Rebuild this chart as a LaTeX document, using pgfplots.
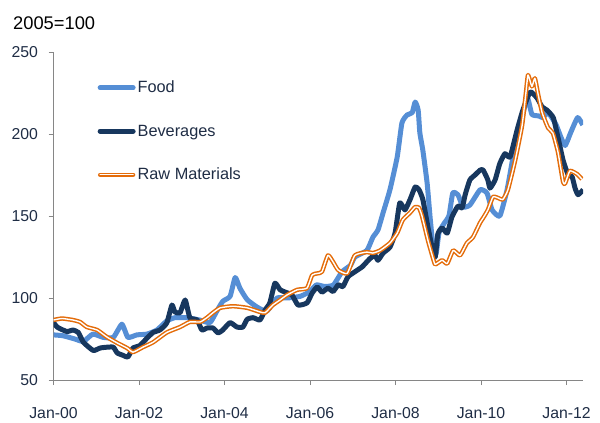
\documentclass[border=0pt]{standalone}
\usepackage{pgfplots}
\pgfplotsset{compat=1.18}
\usepackage{fontspec}
\setmainfont{Liberation Sans}
\definecolor{foodc}{HTML}{558ED5}
\definecolor{bevc}{HTML}{17375E}
\definecolor{rawc}{HTML}{E46C0A}
\definecolor{axc}{HTML}{868686}
\definecolor{txtc}{HTML}{1F2D45}
\begin{document}
\begin{tikzpicture}
\path[use as bounding box] (-53.5bp,-43bp) rectangle (546.5bp,380bp);
\begin{axis}[
  scale only axis, width=529.5bp, height=328bp,
  xmin=2000, xmax=2012.386, ymin=50, ymax=250,
  axis lines*=left,
  axis line style={draw=axc, line width=0.8bp},
  tick align=outside, major tick length=5bp,
  tick style={draw=axc, line width=0.8bp},
  xtick={2000,2002,2004,2006,2008,2010,2012},
  xticklabels={Jan-00,Jan-02,Jan-04,Jan-06,Jan-08,Jan-10,Jan-12},
  ytick={50,100,150,200,250},
  /pgf/number format/assume math mode=true,
  tick label style={font=\fontsize{15.8bp}{18bp}\selectfont, text=txtc},
  xticklabel style={yshift=-19bp},
  yticklabel style={xshift=-7bp},
  legend style={draw=none, fill=none, at={(axis description cs:0.083,0.918)}, anchor=north west,
    font=\fontsize{16.3bp}{19bp}\selectfont, text=txtc, row sep=26.5bp, inner sep=0pt},
  legend cell align=left,
  legend image code/.code={\draw[#1, line cap=round] (0bp,0bp) -- (33bp,0bp);},
  every axis plot/.append style={smooth, tension=0.3, line join=round},
]
\addplot[draw=foodc, line width=5bp] coordinates {
(2000.00,77.5) (2000.22,77) (2000.50,75) (2000.70,73.5) (2000.92,78) (2001.16,76) (2001.40,76) (2001.60,84) (2001.74,76) (2001.95,77.5) (2002.19,78) (2002.42,80.5) (2002.65,86) (2002.84,88) (2003.12,88) (2003.43,86.5) (2003.66,85) (2003.82,92) (2003.96,98) (2004.13,101) (2004.25,112.5) (2004.36,106) (2004.53,99) (2004.76,94.5) (2004.99,92) (2005.23,100) (2005.46,100) (2005.77,101) (2006.00,104) (2006.15,108) (2006.35,107) (2006.55,108) (2006.75,116) (2006.95,120) (2007.05,125) (2007.33,129) (2007.47,137) (2007.59,141.5) (2007.71,152) (2007.87,166) (2008.04,186) (2008.15,206.7) (2008.27,211.6) (2008.39,213) (2008.46,219.5) (2008.53,214.6) (2008.57,200.6) (2008.64,190) (2008.74,170) (2008.81,149) (2008.88,131) (2008.95,127) (2009.02,140) (2009.15,146) (2009.25,150) (2009.34,164) (2009.46,163) (2009.58,155.5) (2009.74,156.7) (2009.98,166) (2010.14,164) (2010.26,153.7) (2010.44,150) (2010.61,166) (2010.75,186) (2010.90,203) (2011.08,222) (2011.19,212) (2011.35,211) (2011.45,210) (2011.57,213) (2011.75,206) (2011.87,198) (2011.97,193) (2012.10,201) (2012.26,210) (2012.38,205.5)
};
\addlegendentry{Food}
\addplot[draw=bevc, line width=5bp] coordinates {
(2000.00,85) (2000.10,82) (2000.32,79.5) (2000.45,80.5) (2000.58,79) (2000.70,73) (2000.93,68) (2001.09,69.5) (2001.25,70) (2001.40,70) (2001.49,66.5) (2001.63,65) (2001.74,64) (2001.86,69.5) (2002.02,71) (2002.19,75.6) (2002.33,79) (2002.49,80.5) (2002.65,84.8) (2002.77,95.7) (2002.84,91.5) (2002.96,91) (2003.08,98.8) (2003.19,88) (2003.36,86.6) (2003.47,80.5) (2003.59,81.7) (2003.73,81.7) (2003.85,78.7) (2003.96,80.5) (2004.13,85) (2004.29,82.3) (2004.43,82.3) (2004.53,87) (2004.67,88) (2004.83,86.6) (2004.95,92.7) (2005.06,97) (2005.18,109) (2005.30,105) (2005.42,103.6) (2005.58,101.8) (2005.72,95.7) (2005.93,97) (2006.05,103) (2006.17,106.7) (2006.28,103.6) (2006.42,106) (2006.54,104) (2006.66,108) (2006.77,107) (2006.89,113) (2007.05,116) (2007.22,119) (2007.40,124) (2007.52,126) (2007.59,123) (2007.71,127.4) (2007.87,131) (2007.99,139.6) (2008.10,158) (2008.22,153.7) (2008.34,160) (2008.46,167.7) (2008.55,166) (2008.64,160) (2008.76,143) (2008.88,128) (2008.93,125) (2008.99,139) (2009.09,142.7) (2009.21,139.6) (2009.32,149.4) (2009.46,156) (2009.56,155) (2009.63,163) (2009.74,172) (2009.86,175) (2009.98,178) (2010.05,178) (2010.16,172) (2010.21,167) (2010.33,172) (2010.44,182) (2010.56,188) (2010.68,186) (2010.84,202) (2010.98,214.6) (2011.15,225.6) (2011.31,222) (2011.43,216.5) (2011.54,214.6) (2011.69,210) (2011.80,198) (2011.92,184) (2012.04,175) (2012.13,174) (2012.20,167) (2012.27,163) (2012.39,166)
};
\addlegendentry{Beverages}
\addplot[draw=rawc, line width=1.5bp, double=white, double distance=1.4bp] coordinates {
(2000.00,86.6) (2000.20,87.5) (2000.45,86.6) (2000.62,85.4) (2000.78,82.3) (2001.02,80.5) (2001.25,76.2) (2001.49,72.6) (2001.72,69.5) (2001.86,67) (2002.09,70) (2002.33,73) (2002.65,79) (2002.96,82.3) (2003.19,85.4) (2003.43,85.4) (2003.59,88) (2003.73,91) (2003.90,94) (2004.20,95) (2004.53,94) (2004.83,91.5) (2004.95,91) (2005.13,95.7) (2005.30,98.8) (2005.46,101.8) (2005.70,105) (2005.93,106) (2006.05,114) (2006.17,115) (2006.28,116) (2006.42,126) (2006.54,122) (2006.66,117) (2006.87,115) (2007.05,126) (2007.33,128) (2007.47,127.4) (2007.64,129) (2007.87,133.5) (2008.04,139.6) (2008.17,147.6) (2008.34,152) (2008.46,155.5) (2008.55,155) (2008.62,150) (2008.76,135) (2008.88,124) (2008.93,120.5) (2009.09,123) (2009.21,121) (2009.35,129) (2009.51,126) (2009.67,133.5) (2009.81,137) (2009.98,146) (2010.05,148.8) (2010.16,153.7) (2010.28,161.6) (2010.40,161) (2010.51,160) (2010.63,166) (2010.80,184) (2010.96,205) (2011.05,225) (2011.10,236) (2011.19,229) (2011.26,234) (2011.33,225) (2011.43,213) (2011.57,203.7) (2011.68,200.6) (2011.80,189) (2011.92,170.7) (2011.97,170) (2012.08,177.5) (2012.25,175.5) (2012.36,172.5)
};
\addlegendentry{Raw Materials}
\end{axis}
\node[anchor=base west, font=\fontsize{18.3bp}{22bp}\selectfont, inner sep=0pt] at (-40.5bp,350bp) {2005=100};
\end{tikzpicture}
\end{document}
